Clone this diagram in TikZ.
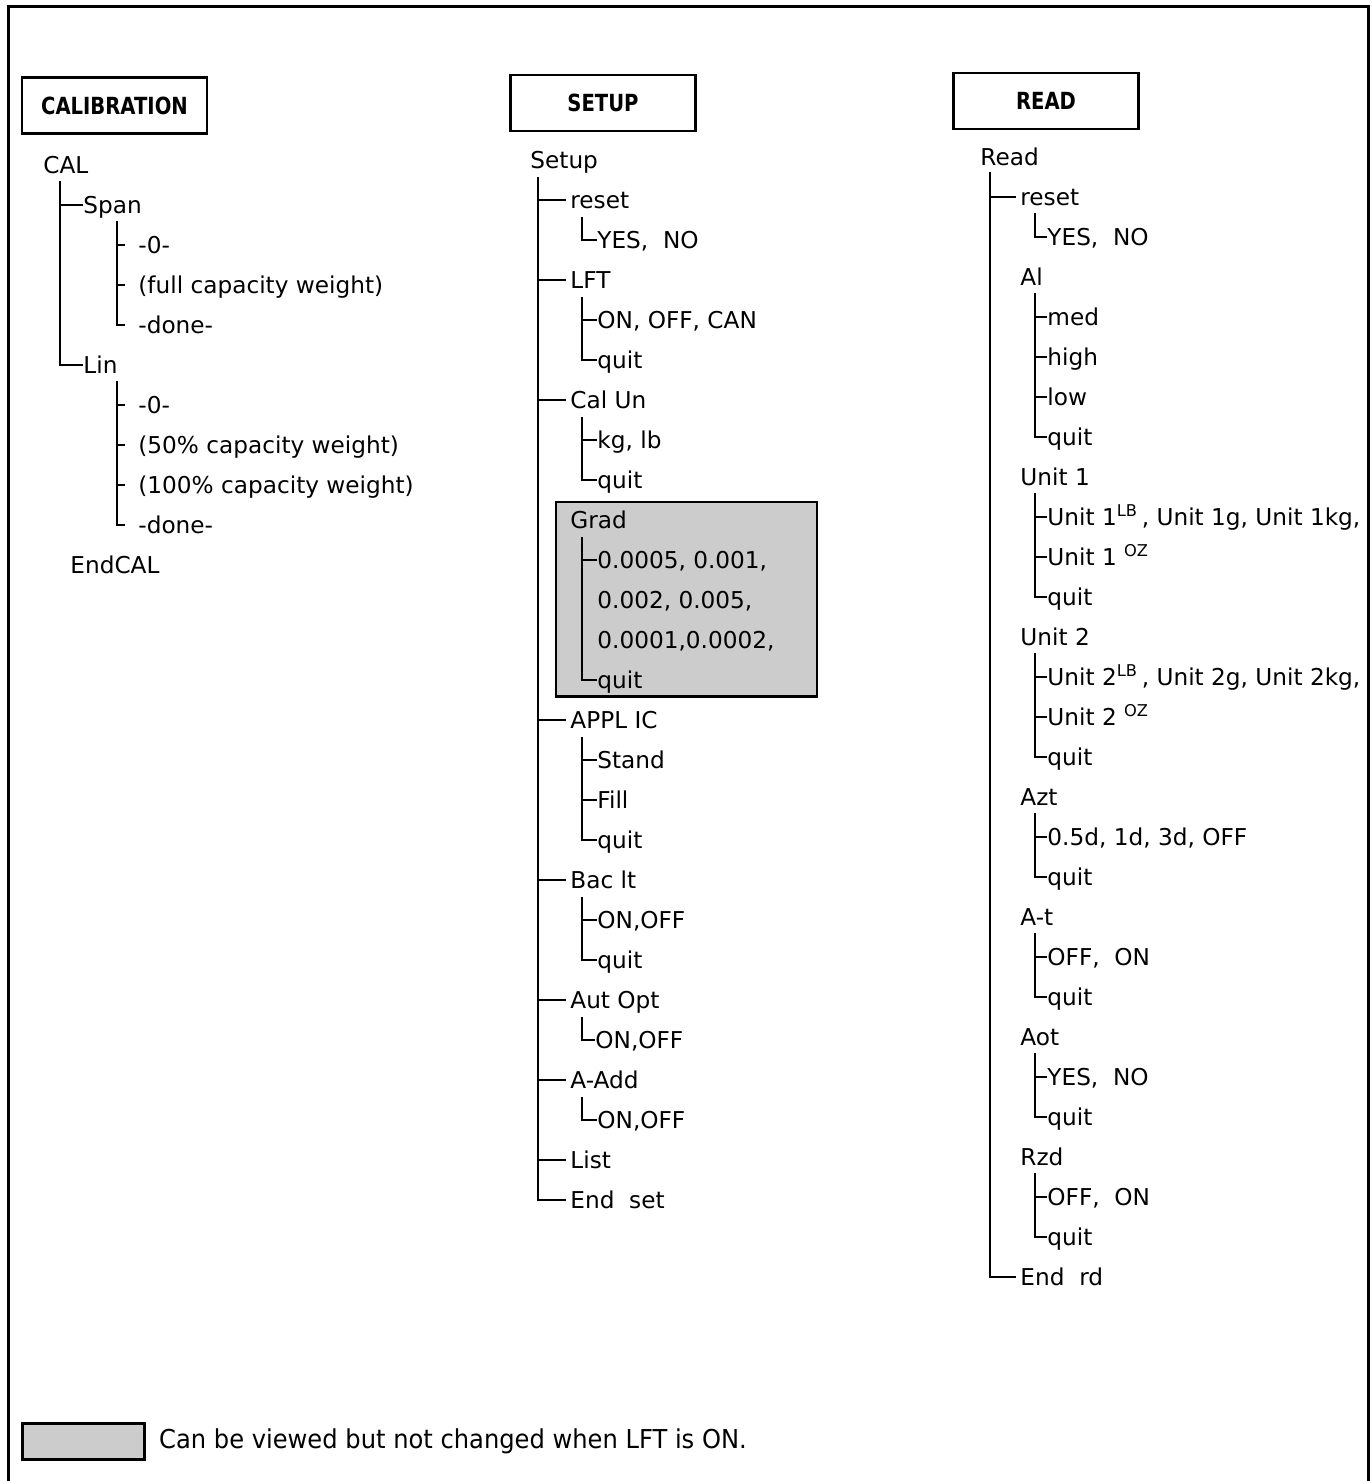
\documentclass[tikz,border=0pt]{standalone}
\usepackage{fontspec}
\setmainfont{DejaVu Sans}
\usetikzlibrary{positioning, backgrounds}
\definecolor{shade}{HTML}{CCCCCC}
\newcommand{\headtext}[1]{\scalebox{0.83}[1]{\fontsize{11.8}{14}\selectfont\bfseries #1}}

\begin{document}
\begin{tikzpicture}[x=0.5pt, y=-0.5pt,
    head/.style={rectangle, draw, line width=1.3pt, minimum width=92.5pt, minimum height=28pt, inner sep=0pt},
    item/.style={anchor=west, inner sep=0pt, text height=8.5pt, text depth=0pt, font=\fontsize{11.6}{14}\selectfont},
    tree/.style={line width=1.4pt},
    greybox/.style={draw, fill=shade, line width=1.1pt},
    legend/.style={anchor=west, inner sep=0pt, font=\fontsize{13}{15}\selectfont}]
\useasboundingbox (0,0) rectangle (1371,1481);
\draw[line width=1.5pt] (8,1481) |- (1368,7) -- (1368,1481);

% calibration column
\node[head] (calhead) at (114.5,105.5) {\headtext{CALIBRATION}};
\node[item] (cal) at (43,165) {CAL};
\node[item] (span) at (83,205) {Span};
\node[item] (span0) at (138,245) {-0-};
\node[item] (spanfull) at (138,285) {(full\ capacity\ weight)};
\node[item] (spandone) at (138,325) {-done-};
\node[item] (lin) at (83,365) {Lin};
\node[item] (lin0) at (138,405) {-0-};
\node[item] (lin50) at (138,445) {(50\%\ capacity\ weight)};
\node[item] (lin100) at (138,485) {(100\%\ capacity\ weight)};
\node[item] (lindone) at (138,525) {-done-};
\node[item] (endcal) at (70,565) {EndCAL};

\coordinate (tcal) at ([xshift=8.5pt,yshift=-3.5pt]cal.south west);
\draw[tree] (tcal) |- (lin.west);
\draw[tree] (tcal |- span.west) -- (span.west);
\foreach \p/\l in {span/spandone, lin/lindone} {
    \coordinate (t\p) at ([xshift=17pt,yshift=-3.5pt]\p.south west);
    \draw[tree, shorten >=6.5pt] (t\p) |- (\l.west);
}
\foreach \p/\c in {span/span0, span/spanfull, lin/lin0, lin/lin50, lin/lin100}
    \draw[tree, shorten >=6.5pt] (t\p |- \c.west) -- (\c.west);

% setup column
\node[head] (sethead) at (603,103) {\headtext{SETUP}};
\node[item] (setup) at (530,160) {Setup};
\node[item] (sReset) at (570,200) {reset};
\node[item] (sYes) at (597,240) {YES,\ \ NO};
\node[item] (sLFT) at (570,280) {LFT};
\node[item] (sOn) at (597,320) {ON,\ OFF,\ CAN};
\node[item] (sLq) at (597,360) {quit};
\node[item] (sCal) at (570,400) {Cal Un};
\node[item] (sKg) at (597,440) {kg,\ lb};
\node[item] (sCq) at (597,480) {quit};
\node[item] (sGrad) at (570,520) {Grad};
\node[item] (g1) at (597,560) {0.0005, 0.001,};
\node[item] (g2) at (597,600) {0.002, 0.005,};
\node[item] (g3) at (597,640) {0.0001,0.0002,};
\node[item] (gq) at (597,680) {quit};
\node[item] (sAppl) at (570,720) {APPL IC};
\node[item] (aStand) at (597,760) {Stand};
\node[item] (aFill) at (597,800) {Fill};
\node[item] (aq) at (597,840) {quit};
\node[item] (sBac) at (570,880) {Bac lt};
\node[item] (bOn) at (597,920) {ON,OFF};
\node[item] (bq) at (597,960) {quit};
\node[item] (sAut) at (570,1000) {Aut Opt};
\node[item] (autOn) at (595,1040) {ON,OFF};
\node[item] (sAdd) at (570,1080) {A-Add};
\node[item] (addOn) at (597,1120) {ON,OFF};
\node[item] (sList) at (570,1160) {List};
\node[item] (sEnd) at (570,1200) {End\ \ set};

\begin{scope}[on background layer]
\path[greybox] ([shift={(-7pt,4.75pt)}]sGrad.north west) rectangle ([shift={(110pt,-3.75pt)}]gq.south west);
\end{scope}

\coordinate (tsetup) at ([xshift=4pt,yshift=-4pt]setup.south west);
\draw[tree, shorten >=2pt] (tsetup) |- (sEnd.west);
\foreach \c in {sReset, sLFT, sCal, sAppl, sBac, sAut, sAdd, sList}
    \draw[tree, shorten >=2pt] (tsetup |- \c.west) -- (\c.west);
\foreach \p/\l in {sReset/sYes, sLFT/sLq, sCal/sCq, sGrad/gq, sAppl/aq, sBac/bq, sAut/autOn, sAdd/addOn} {
    \coordinate (t\p) at ([xshift=6pt,yshift=-4pt]\p.south west);
    \draw[tree] (t\p) |- (\l.west);
}
\foreach \p/\c in {sLFT/sOn, sCal/sKg, sGrad/g1, sAppl/aStand, sAppl/aFill, sBac/bOn}
    \draw[tree] (t\p |- \c.west) -- (\c.west);

% read column
\node[head] (readhead) at (1046,101) {\headtext{READ}};
\node[item] (read) at (980,157) {Read};
\node[item] (rReset) at (1020,197) {reset};
\node[item] (rYes) at (1047,237) {YES,\ \ NO};
\node[item] (rAl) at (1020,277) {Al};
\node[item] (al1) at (1047,317) {med};
\node[item] (al2) at (1047,357) {high};
\node[item] (al3) at (1047,397) {low};
\node[item] (alq) at (1047,437) {quit};
\node[item] (rU1) at (1020,477) {Unit 1};
\node[item] (u1a) at (1047,517) {Unit 1\textsuperscript{LB}\,, Unit 1g, Unit 1kg,};
\node[item] (u1b) at (1047,557) {Unit 1 \textsuperscript{OZ}};
\node[item] (u1q) at (1047,597) {quit};
\node[item] (rU2) at (1020,637) {Unit 2};
\node[item] (u2a) at (1047,677) {Unit 2\textsuperscript{LB}\,, Unit 2g, Unit 2kg,};
\node[item] (u2b) at (1047,717) {Unit 2 \textsuperscript{OZ}};
\node[item] (u2q) at (1047,757) {quit};
\node[item] (rAzt) at (1020,797) {Azt};
\node[item] (az1) at (1047,837) {0.5d,\ 1d,\ 3d,\ OFF};
\node[item] (azq) at (1047,877) {quit};
\node[item] (rAt) at (1020,917) {A-t};
\node[item] (at1) at (1047,957) {OFF,\ \ ON};
\node[item] (atq) at (1047,997) {quit};
\node[item] (rAot) at (1020,1037) {Aot};
\node[item] (ao1) at (1047,1077) {YES,\ \ NO};
\node[item] (aoq) at (1047,1117) {quit};
\node[item] (rRzd) at (1020,1157) {Rzd};
\node[item] (rz1) at (1047,1197) {OFF,\ \ ON};
\node[item] (rzq) at (1047,1237) {quit};
\node[item] (rEnd) at (1020,1277) {End\ \ rd};

\coordinate (tread) at ([xshift=5pt,yshift=-3pt]read.south west);
\draw[tree, shorten >=2pt] (tread) |- (rEnd.west);
\draw[tree, shorten >=2pt] (tread |- rReset.west) -- (rReset.west);
\foreach \p/\l in {rReset/rYes, rAl/alq, rU1/u1q, rU2/u2q, rAzt/azq, rAt/atq, rAot/aoq, rRzd/rzq} {
    \coordinate (t\p) at ([xshift=7.5pt,yshift=-3.5pt]\p.south west);
    \draw[tree] (t\p) |- (\l.west);
}
\foreach \p/\c in {rAl/al1, rAl/al2, rAl/al3, rU1/u1a, rU1/u1b, rU2/u2a, rU2/u2b, rAzt/az1, rAt/at1, rAot/ao1, rRzd/rz1}
    \draw[tree] (t\p |- \c.west) -- (\c.west);

% legend
\node[greybox, line width=1.4pt, minimum width=61pt, minimum height=18pt, anchor=north west, inner sep=0pt] (key) at (21,1422) {};
\node[legend, right=6.5pt of key] (keytext) {\scalebox{0.93}[1]{Can be viewed but not changed when LFT is ON.}};
\end{tikzpicture}
\end{document}
